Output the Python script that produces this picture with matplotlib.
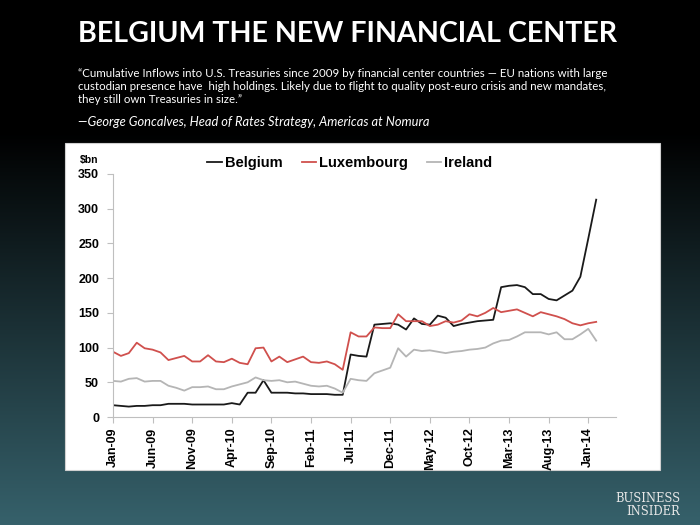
import numpy as np
import matplotlib
matplotlib.use("Agg")
import matplotlib.pyplot as plt
from matplotlib.patches import Rectangle

# Cumulative inflows into U.S. Treasuries since 2009, $bn (monthly)
belgium = [17, 16, 15, 16, 16, 17, 17, 19, 19, 19, 18, 18, 18, 18, 18, 20,
           18, 35, 35, 53, 35, 35, 35, 34, 34, 33, 33, 33, 32, 32, 90, 88,
           87, 133, 134, 135, 133, 126, 142, 134, 133, 146, 143, 131, 134, 136,
           138, 139, 140, 187, 189, 190, 187, 177, 177, 170, 168, 175, 182, 202,
           257, 313]
luxembourg = [94, 88, 92, 107, 99, 97, 93, 82, 85, 88, 80, 80, 89, 80, 79, 84,
              78, 76, 99, 100, 80, 87, 79, 83, 87, 79, 78, 80, 76, 68, 122, 116,
              116, 129, 128, 128, 148, 138, 138, 138, 131, 133, 138, 136, 139, 148,
              145, 150, 157, 151, 153, 155, 150, 145, 151, 148, 145, 141, 135, 132,
              135, 137]
ireland = [52, 51, 55, 56, 51, 52, 52, 45, 42, 38, 43, 43, 44, 40, 40, 44,
           47, 50, 57, 53, 52, 53, 50, 51, 48, 45, 44, 45, 41, 35, 55, 53,
           52, 63, 67, 71, 99, 87, 97, 95, 96, 94, 92, 94, 95, 97,
           98, 100, 106, 110, 111, 116, 122, 122, 122, 119, 122, 112, 112, 119,
           127, 110]
tick_labels = ["Jan-09", "Jun-09", "Nov-09", "Apr-10", "Sep-10", "Feb-11", "Jul-11",
               "Dec-11", "May-12", "Oct-12", "Mar-13", "Aug-13", "Jan-14"]

title = "BELGIUM THE NEW FINANCIAL CENTER"
quote = ("\u201cCumulative Inflows into U.S. Treasuries since 2009 by financial center countries \u2014 EU nations with large\n"
         "custodian presence have  high holdings. Likely due to flight to quality post-euro crisis and new mandates,\n"
         "they still own Treasuries in size.\u201d")
source = "\u2014George Goncalves, Head of Rates Strategy, Americas at Nomura"

fig = plt.figure(figsize=(7, 5.25), dpi=100)

# background: black at top fading to dark teal at the bottom
bg = fig.add_axes([0, 0, 1, 1], zorder=-1)
t = np.clip((np.linspace(0, 1, 525) - 0.25) / 0.75, 0, 1)
top = np.array([0, 0, 0])
bottom = np.array([54, 97, 107]) / 255
grad = top[None, :] * (1 - t[:, None]) + bottom[None, :] * t[:, None]
bg.imshow(np.repeat(grad[:, None, :], 10, axis=1), aspect="auto", extent=[0, 1, 0, 1])
# white chart panel
bg.add_patch(Rectangle((0.093, 0.105), 0.85, 0.623, transform=bg.transAxes,
                       facecolor="white", edgecolor="#d0d0d0", lw=0.8))
bg.set_xlim(0, 1)
bg.set_ylim(0, 1)
bg.set_axis_off()

fig.text(0.111, 0.935, title, color="white", fontsize=20.6, fontweight="bold",
         family="Lato", va="center")
fig.text(0.111, 0.835, quote, color="white", fontsize=8.3, family="Lato",
         va="center", linespacing=1.25)
fig.text(0.111, 0.767, source, color="white", fontsize=9.3, family="Lato",
         style="italic", va="center")
fig.text(0.972, 0.038, "BUSINESS\nINSIDER", color="#e8e8e8", fontsize=8.3,
         family="DejaVu Serif", ha="right", va="center", linespacing=1.05)

ax = fig.add_axes([0.1614, 0.2057, 0.7186, 0.4629])
x = np.arange(len(belgium))
ax.plot(x, belgium, color="#1a1a1a", lw=1.3, label="Belgium")
ax.plot(x, luxembourg, color="#d0504d", lw=1.3, label="Luxembourg")
ax.plot(x, ireland, color="#b5b5b5", lw=1.3, label="Ireland")

ax.set_xlim(0, 63.5)
ax.set_ylim(0, 350)
ax.set_yticks(range(0, 351, 50))
ax.set_xticks(range(0, 61, 5))
ax.set_xticklabels(tick_labels, rotation=90)
for lab in ax.get_xticklabels() + ax.get_yticklabels():
    lab.set_fontweight("bold")
    lab.set_family("Liberation Sans")
ax.tick_params(axis="both", labelsize=9, color="#bfbfbf", length=4, width=0.8)
ax.tick_params(axis="y", pad=6)
for s in ["top", "right"]:
    ax.spines[s].set_visible(False)
for s in ["left", "bottom"]:
    ax.spines[s].set_color("#bfbfbf")
    ax.spines[s].set_linewidth(0.8)
ax.patch.set_alpha(0)

fig.text(0.114, 0.695, "$bn", fontsize=7.5, fontweight="bold", family="Liberation Sans",
         va="center")

fig.legend(loc="center", bbox_to_anchor=(0.5, 0.69), ncol=3, frameon=False,
           handlelength=1.0, handletextpad=0.2, columnspacing=1.3,
           prop={"family": "Liberation Sans", "weight": "bold", "size": 10.5})

fig.savefig("out.png", dpi=100)
